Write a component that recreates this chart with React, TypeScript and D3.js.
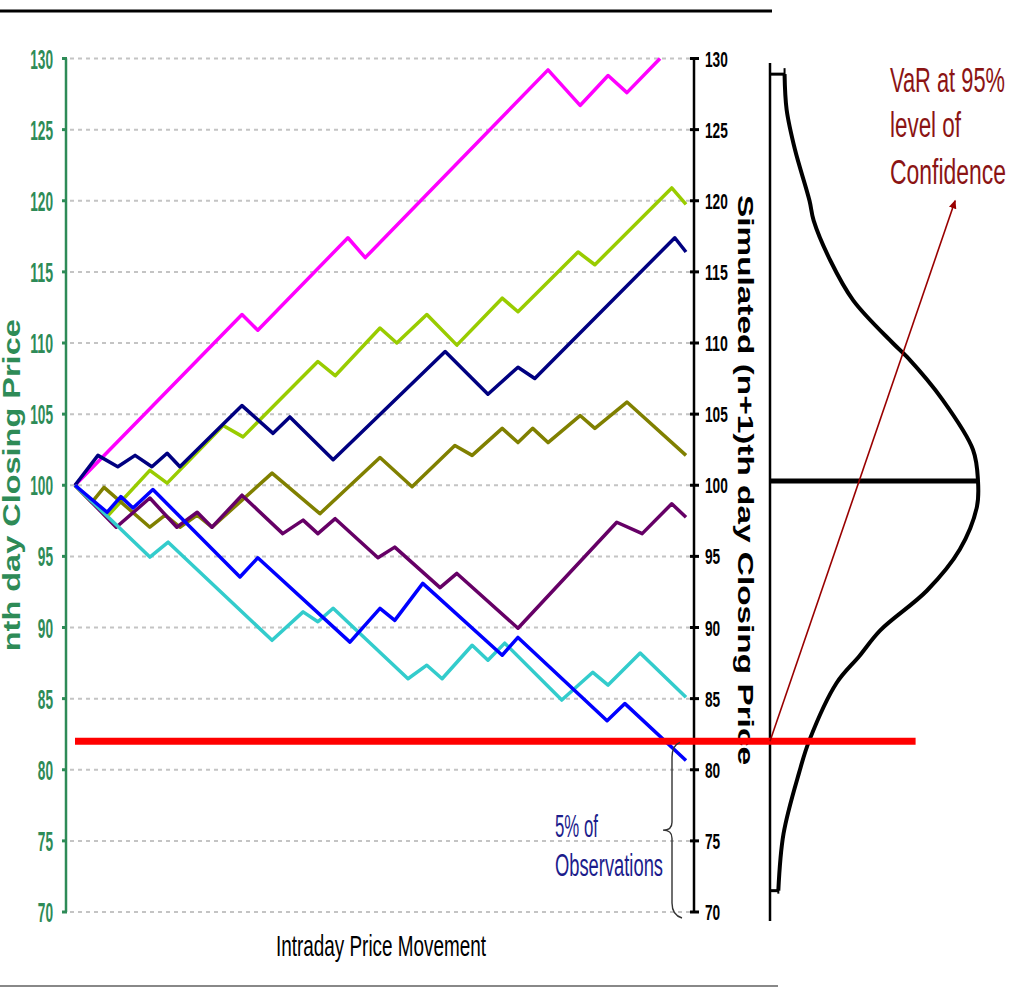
import React from "react";
import * as d3 from "d3";

// ---------- data ----------
const leftTicks = [70, 75, 80, 85, 90, 95, 100, 105, 110, 115, 120, 125, 130];
const rightTicks = [70, 75, 80, 85, 90, 95, 100, 105, 110, 115, 120, 125, 130];

// [intraday step, price]
const magenta: [number, number][] = [[0,100],[32.8,112],[35.9,110.9],[53.6,117.4],[57,116],[92.9,129.2],[99.2,126.7],[104.7,128.8],[108.4,127.6],[114.9,130]];
const yellowGreen: [number, number][] = [[0,100],[6.3,97.8],[14.7,101.05],[18.1,100.15],[29.1,104.2],[33,103.4],[47.7,108.7],[51.1,107.7],[59.9,111.05],[63.2,110],[69.1,112],[75,109.85],[83.9,113.15],[87,112.2],[98.8,116.4],[102.1,115.5],[117.2,120.9],[120,119.75]];
const navy: [number, number][] = [[0,100],[4.5,102.1],[8.4,101.3],[11.8,102.1],[15.1,101.3],[18.1,102.25],[20.6,101.3],[32.8,105.6],[38.9,103.65],[42.2,104.8],[50.7,101.8],[72.7,109.4],[81.1,106.4],[87,108.3],[90.3,107.5],[117.8,117.4],[120,116.4]];
const olive: [number, number][] = [[0,100],[3.3,98.8],[5.7,99.85],[14.7,97.05],[17.7,97.9],[20.6,97.05],[24,97.9],[26.9,97.05],[38.7,100.85],[48.1,98],[59.9,101.95],[66.2,99.9],[74.6,102.8],[78,102.1],[83.9,104],[87,103],[89.9,104],[92.9,103],[99.2,104.9],[102.1,104],[108.4,105.85],[120,102.1]];
const purple: [number, number][] = [[0,100],[8.1,97.05],[14.7,99.1],[20,97.05],[24,98.1],[26.9,97.05],[32.8,99.3],[40.8,96.6],[44.8,97.55],[47.7,96.6],[51.1,97.65],[59.5,94.9],[62.8,95.65],[71.7,92.8],[75,93.8],[87,89.95],[106.4,97.4],[111.4,96.6],[117.2,98.7],[120,97.75]];
const cyan: [number, number][] = [[0,100],[14.7,94.95],[18.3,96],[38.7,89.1],[44.8,91.1],[47.7,90.4],[50.7,91.35],[65.4,86.4],[69.1,87.35],[72.1,86.4],[78,88.75],[81.1,87.7],[84.4,88.9],[95.6,84.9],[101.7,86.85],[104.7,85.95],[111,88.2],[120,85.1]];
const blue: [number, number][] = [[0,100],[6.3,98.1],[9,99.2],[11.4,98.4],[15.3,99.7],[32.4,93.55],[35.9,94.9],[54,88.97],[59.9,91.35],[62.8,90.5],[68.3,93.1],[83.9,88.05],[87,89.3],[104.5,83.45],[108,84.65],[120,80.65]];

const seriesList = [magenta, yellowGreen, navy, olive, purple, cyan, blue];
const seriesColors = ["#ff00ff", "#99cc00", "#000080", "#808000", "#660066", "#33cccc", "#0000ff"];

// simulated distribution: [price, relative density]
const distribution: [number, number][] = [[128.9,0.07],[126.4,0.08],[123.6,0.12],[120,0.19],[118.6,0.21],[115.8,0.29],[113,0.4],[110,0.59],[109,0.66],[106,0.83],[102.5,0.976],[100.3,1],[98.5,0.995],[95.5,0.913],[92.6,0.755],[89.8,0.53],[88,0.43],[86.1,0.32],[82.1,0.19],[79.8,0.14],[75.5,0.065],[71.5,0.04]];
const meanPrice = 100.3;
const varLevel = 82;
const arrowTip: [number, number] = [0.89, 120]; // [density, price]

const narrow = "'Liberation Sans Narrow', 'Arial Narrow', 'Liberation Sans', Arial, sans-serif";

export default function App() {
  const W = 1017, H = 988;
  const x = d3.scaleLinear().domain([0, 120]).range([75, 686]);
  const y = d3.scaleLinear().domain([70, 130]).range([912, 58.5]);
  const dx = d3.scaleLinear().domain([0, 1]).range([770, 978]);

  const line = d3.line<[number, number]>().x(d => x(d[0])).y(d => y(d[1]));
  const distLine = d3.line<[number, number]>().x(d => dx(d[1])).y(d => y(d[0])).curve(d3.curveCatmullRom);

  const green = "#2e8b57";
  const leftAxisX = 66, rightAxisX = 694;

  // brace
  const bx = 672;
  const bTop = y(varLevel) + 4, bBot = y(70) + 3, bMid = (bTop + bBot) / 2;
  const brace = `M${bx + 8},${bTop - 3} Q${bx},${bTop} ${bx},${bTop + 12} L${bx},${bMid - 8} Q${bx},${bMid} ${bx - 9},${bMid} Q${bx},${bMid} ${bx},${bMid + 8} L${bx},${bBot - 12} Q${bx},${bBot} ${bx + 10},${bBot + 3}`;

  const first = distribution[0];
  const last = distribution[distribution.length - 1];

  return (
    <svg width={W} height={H} style={{ position: "absolute", left: 0, top: 0, background: "#fff" }}>
      <defs>
        <marker id="arr" viewBox="0 0 10 10" refX="8" refY="5" markerWidth="6" markerHeight="6" orient="auto">
          <path d="M0,1 L9,5 L0,9 Z" fill="#990000" />
        </marker>
      </defs>
      {/* frame lines */}
      <line x1={0} x2={772} y1={11} y2={11} stroke="#000" strokeWidth={3} />
      <line x1={0} x2={778} y1={986} y2={986} stroke="#888" strokeWidth={2} />

      {/* grid */}
      {leftTicks.map(t => (
        <line key={"g" + t} x1={leftAxisX + 4} x2={rightAxisX - 4} y1={y(t)} y2={y(t)} stroke="#c4c4c4" strokeWidth={2} strokeDasharray="4 4" />
      ))}

      {/* series */}
      {seriesList.map((s, i) => (
        <path key={"s" + i} d={line(s) || ""} fill="none" stroke={seriesColors[i]} strokeWidth={3.5} strokeLinejoin="round" />
      ))}

      {/* left axis */}
      <line x1={leftAxisX} x2={leftAxisX} y1={y(130)} y2={y(70)} stroke={green} strokeWidth={2.5} />
      {leftTicks.map(t => (
        <g key={"lt" + t}>
          <line x1={leftAxisX - 4} x2={leftAxisX + 1} y1={y(t)} y2={y(t)} stroke={green} strokeWidth={3} />
          <text x={53} y={y(t) + 10} textAnchor="end" fill={green} fontFamily={narrow} fontWeight="bold" fontSize={27}
            textLength={String(t).length * 7.6} lengthAdjust="spacingAndGlyphs">{t}</text>
        </g>
      ))}
      <text transform={`translate(20,${y(100)}) rotate(-90)`} textAnchor="middle" fill={green} fontFamily="'Liberation Sans', Arial, sans-serif"
        fontWeight="bold" fontSize={23} textLength={332} lengthAdjust="spacingAndGlyphs">nth day Closing Price</text>

      {/* right axis */}
      <line x1={rightAxisX} x2={rightAxisX} y1={y(130)} y2={y(70)} stroke="#000" strokeWidth={2.5} />
      {rightTicks.map(t => (
        <g key={"rt" + t}>
          <line x1={rightAxisX - 4} x2={rightAxisX + 5} y1={y(t)} y2={y(t)} stroke="#000" strokeWidth={3} />
          <text x={705} y={y(t) + 8} textAnchor="start" fill="#000" fontFamily={narrow} fontWeight="bold" fontSize={22}
            textLength={String(t).length * 7.6} lengthAdjust="spacingAndGlyphs">{t}</text>
        </g>
      ))}
      <text transform={`translate(738,${480}) rotate(90)`} textAnchor="middle" fill="#000" fontFamily="'Liberation Sans', Arial, sans-serif"
        fontWeight="bold" fontSize={22} textLength={570} lengthAdjust="spacingAndGlyphs">Simulated (n+1)th day Closing Price</text>

      {/* x axis title */}
      <text x={276} y={956} fill="#000" fontFamily={narrow} fontSize={29} textLength={210} lengthAdjust="spacingAndGlyphs">Intraday Price Movement</text>

      {/* distribution */}
      <line x1={dx(0)} x2={dx(0)} y1={63} y2={921} stroke="#000" strokeWidth={2.5} />
      <path d={distLine(distribution) || ""} fill="none" stroke="#000" strokeWidth={4} />
      <line x1={dx(0)} x2={dx(first[1])} y1={y(first[0])} y2={y(first[0])} stroke="#000" strokeWidth={3} />
      <line x1={dx(first[1])} x2={dx(first[1])} y1={y(first[0]) - 6} y2={y(first[0]) + 6} stroke="#000" strokeWidth={2} />
      <line x1={dx(0)} x2={dx(last[1])} y1={y(last[0])} y2={y(last[0])} stroke="#000" strokeWidth={3} />
      <line x1={dx(last[1])} x2={dx(last[1])} y1={y(last[0]) - 6} y2={y(last[0]) + 3} stroke="#000" strokeWidth={2} />
      <line x1={dx(0)} x2={dx(1)} y1={y(meanPrice)} y2={y(meanPrice)} stroke="#000" strokeWidth={5} />

      {/* VaR line */}
      <line x1={x(0)} x2={dx(0.7)} y1={y(varLevel)} y2={y(varLevel)} stroke="#ff0000" strokeWidth={7} />

      {/* arrow */}
      <line x1={dx(0)} y1={y(varLevel)} x2={dx(arrowTip[0])} y2={y(arrowTip[1])} stroke="#990000" strokeWidth={1.6} markerEnd="url(#arr)" />

      {/* VaR text */}
      <g fill="#8b1414" fontFamily={narrow} fontSize={35}>
        <text x={890} y={92} textLength={115} lengthAdjust="spacingAndGlyphs">VaR at 95%</text>
        <text x={890} y={137} textLength={71} lengthAdjust="spacingAndGlyphs">level of</text>
        <text x={890} y={184} textLength={116} lengthAdjust="spacingAndGlyphs">Confidence</text>
      </g>

      {/* brace + observations */}
      <path d={brace} fill="none" stroke="#333" strokeWidth={1.4} />
      <g fill="#1c1c8c" fontFamily={narrow} fontSize={31}>
        <text x={555} y={837} textLength={43} lengthAdjust="spacingAndGlyphs">5% of</text>
        <text x={555} y={876} textLength={108} lengthAdjust="spacingAndGlyphs">Observations</text>
      </g>
    </svg>
  );
}
